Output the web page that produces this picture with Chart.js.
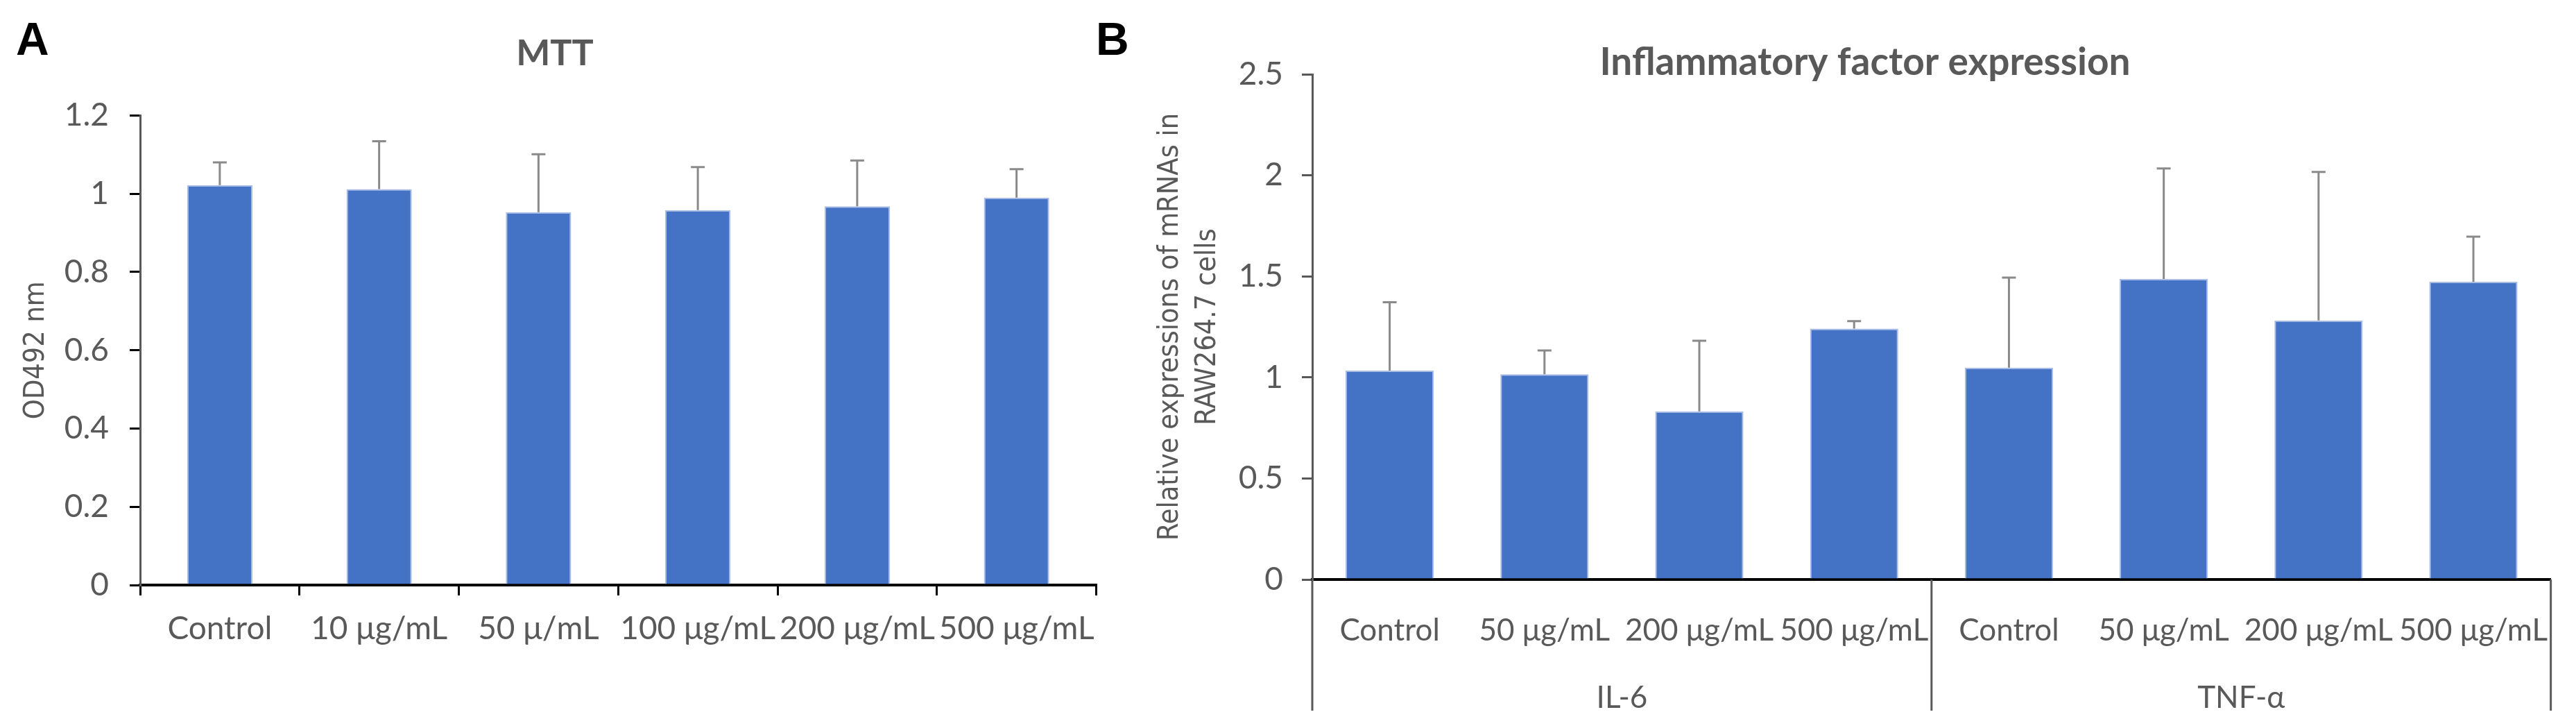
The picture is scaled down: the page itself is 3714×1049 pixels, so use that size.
<!DOCTYPE html>
<html>
<head>
<meta charset="utf-8">
<script src="https://cdn.jsdelivr.net/npm/chart.js@4.4.1/dist/chart.umd.min.js"></script>
<style>
    html, body { margin: 0; padding: 0; background: #fff; overflow: hidden; }
    #wrap { position: relative; width: 3714px; height: 1049px; }
    canvas { position: absolute; top: 0; }
    #chartA { left: 0; }
    #chartB { left: 1600px; }
    .panel { position: absolute; font: bold 66px "Liberation Sans", Arial, sans-serif; line-height: 66px; color: #000; }
</style>
</head>
<body>
<div id="wrap">
    <canvas id="chartA" width="1600" height="1049"></canvas>
    <canvas id="chartB" width="2114" height="1049"></canvas>
    <div class="panel" style="left:23px;top:23px">A</div>
    <div class="panel" style="left:1580px;top:23px">B</div>
</div>
<script>
"use strict";

// panel A - MTT
const mttLabels = ["Control", "10 μg/mL", "50 μ/mL", "100 μg/mL", "200 μg/mL", "500 μg/mL"];
const mttMeans = [1.022, 1.012, 0.953, 0.958, 0.968, 0.990];
const mttErrors = [0.058, 0.122, 0.148, 0.110, 0.117, 0.073];
const mttYTicks = [0, 0.2, 0.4, 0.6, 0.8, 1, 1.2];

// panel B - inflammatory factors
const doseLabels = ["Control", "50 μg/mL", "200 μg/mL", "500 μg/mL", "Control", "50 μg/mL", "200 μg/mL", "500 μg/mL"];
const factorGroups = ["IL-6", "TNF-α"];
const factorMeans = [1.034, 1.016, 0.832, 1.241, 1.048, 1.487, 1.282, 1.473];
const factorErrors = [0.338, 0.117, 0.349, 0.037, 0.446, 0.547, 0.735, 0.223];
const factorYTicks = [0, 0.5, 1, 1.5, 2, 2.5];

const textGray = "#595959";
const barBlue = "#4472C4";
const labelFont = "Lato, 'Liberation Sans', sans-serif";
const axisTitleFont = "'DejaVu Sans Condensed', 'DejaVu Sans', sans-serif";

// upper-only error bars, like the excel plot
const errorBars = {
    id: "errorBars",
    afterDatasetsDraw(chart, args, opts) {
        let ctx = chart.ctx;
        let yScale = chart.scales.y;
        let values = chart.data.datasets[0].data;
        let meta = chart.getDatasetMeta(0);
        ctx.save();
        ctx.strokeStyle = "#8a8a8a";
        ctx.lineWidth = 3;
        meta.data.forEach((bar, i) => {
            let top = yScale.getPixelForValue(values[i] + opts.errors[i]);
            ctx.beginPath();
            ctx.moveTo(bar.x, bar.y);
            ctx.lineTo(bar.x, top);
            ctx.moveTo(bar.x - 10, top);
            ctx.lineTo(bar.x + 10, top);
            ctx.stroke();
        });
        ctx.restore();
    }
};

// vertical lines splitting the grouped category axis
const groupDividers = {
    id: "groupDividers",
    afterDraw(chart, args, opts) {
        if (!opts.size) return;
        let ctx = chart.ctx;
        let x = chart.scales.x;
        let y = chart.scales.y;
        let count = chart.data.labels.length / opts.size;
        ctx.save();
        ctx.strokeStyle = textGray;
        ctx.lineWidth = 3;
        for (let g = 0; g <= count; g++) {
            let px;
            if (g === 0) px = x.left;
            else if (g === count) px = x.right;
            else px = (x.getPixelForValue(g * opts.size - 1) + x.getPixelForValue(g * opts.size)) / 2;
            ctx.beginPath();
            ctx.moveTo(px, y.bottom);
            ctx.lineTo(px, opts.bottom);
            ctx.stroke();
        }
        ctx.restore();
    }
};

Chart.register(errorBars, groupDividers);

const plainNumber = (value) => String(Math.round(value * 10) / 10);

new Chart(document.getElementById("chartA"), {
    type: "bar",
    data: {
        labels: mttLabels,
        datasets: [{
            data: mttMeans,
            backgroundColor: barBlue,
            borderColor: "#a9bde6",
            borderWidth: 2,
            barPercentage: 0.41,
            categoryPercentage: 1
        }]
    },
    options: {
        responsive: false,
        animation: false,
        layout: { padding: { left: 18, right: 18, top: 0, bottom: 0 } },
        plugins: {
            legend: { display: false },
            tooltip: { enabled: false },
            title: {
                display: true,
                text: "MTT",
                color: textGray,
                font: { family: labelFont, size: 52, weight: "bold" },
                padding: { top: 46, bottom: 58 }
            },
            errorBars: { errors: mttErrors },
            groupDividers: { size: 0 }
        },
        scales: {
            x: {
                grid: { offset: true, drawOnChartArea: false, tickLength: 15, color: "#000", lineWidth: 3 },
                border: { color: "#000", width: 4 },
                ticks: { color: textGray, font: { family: labelFont, size: 46 }, padding: 21, maxRotation: 0, autoSkip: false },
                afterFit: (scale) => { scale.height = 206; }
            },
            y: {
                min: mttYTicks[0],
                max: mttYTicks[mttYTicks.length - 1],
                afterBuildTicks: (scale) => { scale.ticks = mttYTicks.map(v => ({ value: v })); },
                grid: { drawOnChartArea: false, tickLength: 15, color: "#000", lineWidth: 3 },
                border: { color: textGray, width: 3 },
                ticks: { color: textGray, font: { family: labelFont, size: 46 }, padding: 30, callback: plainNumber },
                title: {
                    display: true,
                    text: "OD492 nm",
                    color: textGray,
                    font: { family: axisTitleFont, size: 41 },
                    padding: { top: 10, bottom: 0 }
                },
                afterFit: (scale) => { scale.width = 184; }
            }
        }
    }
});

new Chart(document.getElementById("chartB"), {
    type: "bar",
    data: {
        labels: doseLabels,
        datasets: [{
            data: factorMeans,
            backgroundColor: barBlue,
            borderColor: "#a9bde6",
            borderWidth: 2,
            barPercentage: 0.57,
            categoryPercentage: 1
        }]
    },
    options: {
        responsive: false,
        animation: false,
        layout: { padding: { left: 95, right: 31, top: 0, bottom: 0 } },
        plugins: {
            legend: { display: false },
            tooltip: { enabled: false },
            title: {
                display: true,
                text: "Inflammatory factor expression",
                color: textGray,
                font: { family: labelFont, size: 55, weight: "bold" },
                padding: { top: 57, bottom: -16 }
            },
            errorBars: { errors: factorErrors },
            groupDividers: { size: 4, bottom: 1024 }
        },
        scales: {
            x: {
                weight: 0,
                grid: { display: false },
                border: { color: "#000", width: 4 },
                ticks: { color: textGray, font: { family: labelFont, size: 44 }, padding: 39, maxRotation: 0, autoSkip: false },
                afterFit: (scale) => { scale.height = 110; }
            },
            x2: {
                type: "category",
                labels: factorGroups,
                position: "bottom",
                weight: 1,
                offset: true,
                grid: { display: false },
                border: { display: false },
                ticks: { color: textGray, font: { family: labelFont, size: 44 }, padding: 26, maxRotation: 0 },
                afterFit: (scale) => { scale.height = 104; }
            },
            y: {
                min: factorYTicks[0],
                max: factorYTicks[factorYTicks.length - 1],
                afterBuildTicks: (scale) => { scale.ticks = factorYTicks.map(v => ({ value: v })); },
                grid: { drawOnChartArea: false, tickLength: 15, color: textGray, lineWidth: 3 },
                border: { color: textGray, width: 3 },
                ticks: { color: textGray, font: { family: labelFont, size: 46 }, padding: 27, callback: plainNumber },
                title: {
                    display: true,
                    text: ["Relative expressions of mRNAs in", "RAW264.7 cells"],
                    color: textGray,
                    font: { family: axisTitleFont, size: 41, lineHeight: 1.32 },
                    padding: { top: -35, bottom: 0 }
                },
                afterFit: (scale) => { scale.width = 197; }
            }
        }
    }
});
</script>
</body>
</html>
